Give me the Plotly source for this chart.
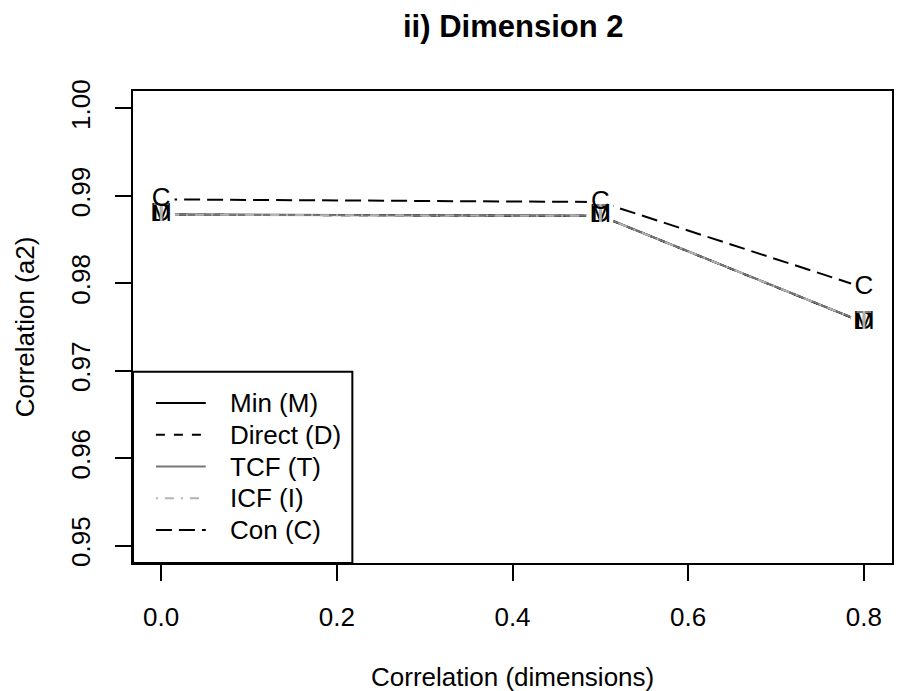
import plotly.graph_objects as go

# ---------------- data ----------------
x_vals = [0.0, 0.5, 0.8]
min_vals = [0.98786, 0.98772, 0.97552]
direct_vals = [0.98785, 0.98771, 0.97551]
tcf_vals = [0.98784, 0.98772, 0.97553]
icf_vals = [0.98785, 0.98771, 0.97552]
con_vals = [0.98960, 0.98930, 0.97950]

series_names = ["Min (M)", "Direct (D)", "TCF (T)", "ICF (I)", "Con (C)"]
series_letters = ["M", "D", "T", "I", "C"]
series_values = [min_vals, direct_vals, tcf_vals, icf_vals, con_vals]

x_ticks = [0.0, 0.2, 0.4, 0.6, 0.8]
x_ticklabels = ["0.0", "0.2", "0.4", "0.6", "0.8"]
y_ticks = [0.95, 0.96, 0.97, 0.98, 0.99, 1.00]
y_ticklabels = ["0.95", "0.96", "0.97", "0.98", "0.99", "1.00"]

title_text = "ii) Dimension 2"
x_title = "Correlation (dimensions)"
y_title = "Correlation (a2)"

# ---------------- styles ----------------
FONT = "Liberation Sans, Arial, Helvetica, sans-serif"
FS = 26
colors = ["#000000", "#000000", "#777777", "#b3b3b3", "#000000"]
dashes = ["solid", "9px,9px", "solid", "2px,7px,9px,7px", "16px,7px"]
LW = 2

fig = go.Figure()

# lines
for name, vals, col, dash in zip(series_names, series_values, colors, dashes):
    fig.add_trace(go.Scatter(x=x_vals, y=vals, mode="lines", name=name,
                             line=dict(color=col, width=LW, dash=dash),
                             showlegend=False, hoverinfo="skip"))

# white gaps around points (type = "b")
for vals in series_values:
    fig.add_trace(go.Scatter(x=x_vals, y=vals, mode="markers",
                             marker=dict(symbol="circle", size=27, color="white",
                                         line=dict(width=0)),
                             showlegend=False, hoverinfo="skip"))

# letters
for letter, vals, col in zip(series_letters, series_values, colors):
    fig.add_trace(go.Scatter(x=x_vals, y=vals, mode="text",
                             text=[letter] * len(x_vals),
                             textposition="middle center",
                             textfont=dict(family=FONT, size=FS, color=col),
                             showlegend=False, hoverinfo="skip"))

# ---------------- manual legend ----------------
shapes = []
annotations = []
leg_x1 = 0.289
leg_y1 = 0.405
shapes.append(dict(type="rect", xref="paper", yref="paper", x0=0, x1=leg_x1,
                   y0=0, y1=leg_y1, line=dict(color="black", width=2),
                   fillcolor="white", layer="above"))
row_y0 = 0.339
row_step = 0.0673
for i, (name, col, dash) in enumerate(zip(series_names, colors, dashes)):
    yy = row_y0 - i * row_step
    shapes.append(dict(type="line", xref="paper", yref="paper", x0=0.0302, x1=0.0959,
                       y0=yy, y1=yy, line=dict(color=col, width=LW, dash=dash),
                       layer="above"))
    annotations.append(dict(text=name, xref="paper", yref="paper", x=0.1248, y=yy,
                            xanchor="left", yanchor="middle", showarrow=False,
                            font=dict(family=FONT, size=FS, color="black")))

# titles
annotations.append(dict(text="<b>" + title_text + "</b>", xref="paper", yref="paper",
                        x=0.5, y=1.1356, xanchor="center", yanchor="middle",
                        showarrow=False, font=dict(family=FONT, size=31, color="black")))
annotations.append(dict(text=x_title, xref="paper", yref="paper",
                        x=0.5, y=-0.2415, xanchor="center", yanchor="middle",
                        showarrow=False, font=dict(family=FONT, size=FS, color="black")))
annotations.append(dict(text=y_title, xref="paper", yref="paper",
                        x=-0.1419, y=0.5, xanchor="center", yanchor="middle",
                        textangle=-90, showarrow=False,
                        font=dict(family=FONT, size=FS, color="black")))

fig.update_layout(
    width=898, height=691,
    margin=dict(l=133, r=4, t=91, b=128),
    paper_bgcolor="white", plot_bgcolor="white",
    font=dict(family=FONT, size=FS, color="black"),
    shapes=shapes, annotations=annotations,
    showlegend=False,
)
fig.update_xaxes(range=[-0.032, 0.832], tickvals=x_ticks, ticktext=x_ticklabels,
                 showgrid=False, zeroline=False, showline=True, mirror=True,
                 linecolor="black", linewidth=2, ticks="outside", ticklen=16,
                 tickwidth=2, tickcolor="black", ticklabelstandoff=14,
                 tickfont=dict(family=FONT, size=FS, color="black"))
fig.update_yaxes(range=[0.948, 1.002], tickvals=y_ticks, ticktext=y_ticklabels,
                 showgrid=False, zeroline=False, showline=True, mirror=True,
                 linecolor="black", linewidth=2, ticks="outside", ticklen=16,
                 tickwidth=2, tickcolor="black", tickangle=-90, ticklabelstandoff=15,
                 tickfont=dict(family=FONT, size=FS, color="black"))

fig.write_html("out.html")
